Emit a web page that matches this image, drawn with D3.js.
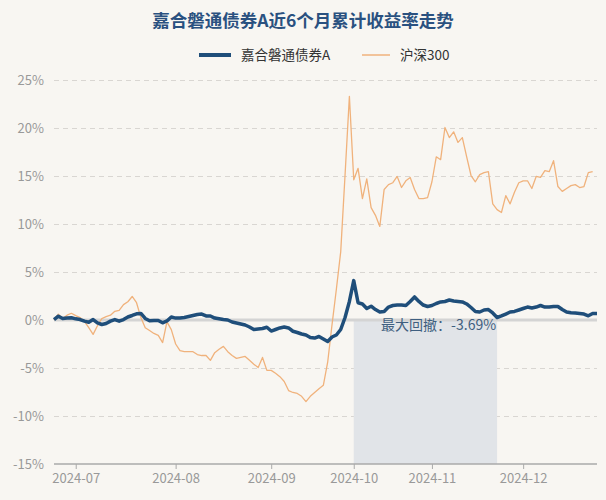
<!DOCTYPE html>
<html><head><meta charset="utf-8">
<script src="https://cdn.jsdelivr.net/npm/d3@7/dist/d3.min.js"></script>
<style>
html,body{margin:0;padding:0;background:#f8f6f2;}
svg{display:block;font-family:"Noto Sans CJK SC","Noto Sans",sans-serif;}
</style></head>
<body><svg id="c" width="606" height="500"></svg>
<script>
const title = "嘉合磐通债券A近6个月累计收益率走势";
const seriesNames = ["嘉合磐通债券A", "沪深300"];
const dates = [
"2024-06-24","2024-06-25","2024-06-26","2024-06-27","2024-06-28",
"2024-07-01","2024-07-02","2024-07-03","2024-07-04","2024-07-05","2024-07-08","2024-07-09","2024-07-10","2024-07-11","2024-07-12",
"2024-07-15","2024-07-16","2024-07-17","2024-07-18","2024-07-19","2024-07-22","2024-07-23","2024-07-24","2024-07-25","2024-07-26",
"2024-07-29","2024-07-30","2024-07-31",
"2024-08-01","2024-08-02","2024-08-05","2024-08-06","2024-08-07","2024-08-08","2024-08-09","2024-08-12","2024-08-13","2024-08-14",
"2024-08-15","2024-08-16","2024-08-19","2024-08-20","2024-08-21","2024-08-22","2024-08-23","2024-08-26","2024-08-27","2024-08-28",
"2024-08-29","2024-08-30",
"2024-09-02","2024-09-03","2024-09-04","2024-09-05","2024-09-06","2024-09-09","2024-09-10","2024-09-11","2024-09-12","2024-09-13",
"2024-09-18","2024-09-19","2024-09-20","2024-09-23","2024-09-24","2024-09-25","2024-09-26","2024-09-27","2024-09-30",
"2024-10-08","2024-10-09","2024-10-10","2024-10-11","2024-10-14","2024-10-15","2024-10-16","2024-10-17","2024-10-18","2024-10-21",
"2024-10-22","2024-10-23","2024-10-24","2024-10-25","2024-10-28","2024-10-29","2024-10-30","2024-10-31",
"2024-11-01","2024-11-04","2024-11-05","2024-11-06","2024-11-07","2024-11-08","2024-11-11","2024-11-12","2024-11-13","2024-11-14",
"2024-11-15","2024-11-18","2024-11-19","2024-11-20","2024-11-21","2024-11-22","2024-11-25","2024-11-26","2024-11-27","2024-11-28",
"2024-11-29",
"2024-12-02","2024-12-03","2024-12-04","2024-12-05","2024-12-06","2024-12-09","2024-12-10","2024-12-11","2024-12-12","2024-12-13",
"2024-12-16","2024-12-17","2024-12-18","2024-12-19","2024-12-20","2024-12-23","2024-12-24","2024-12-25"
];
const fund = [0.05,0.4,0.15,0.2,0.23,0.12,0.05,-0.12,-0.23,0.05,
-0.3,-0.47,-0.36,-0.12,0.05,-0.12,0.05,0.31,0.47,0.65,
0.68,0.16,-0.08,-0.05,-0.05,-0.29,-0.1,0.31,0.2,0.2,
0.26,0.36,0.47,0.57,0.62,0.42,0.42,0.2,0.12,0.05,
0,-0.21,-0.31,-0.42,-0.52,-0.73,-0.99,-0.94,-0.89,-0.76,
-1.15,-0.99,-0.83,-0.73,-0.83,-1.17,-1.3,-1.46,-1.56,-1.82,
-1.88,-1.72,-1.98,-2.24,-1.77,-1.56,-0.99,0.26,1.93,4.1,
1.8,1.67,1.2,1.44,1.09,0.83,0.89,1.35,1.51,1.56,
1.56,1.51,1.93,2.4,1.93,1.56,1.41,1.51,1.72,1.88,
1.93,2.08,1.98,1.93,1.88,1.67,1.3,0.89,0.83,1.04,
1.09,0.73,0.26,0.42,0.62,0.83,0.89,1.04,1.2,1.35,
1.25,1.35,1.51,1.35,1.35,1.41,1.41,1.09,0.83,0.75,
0.73,0.68,0.62,0.44,0.68,0.68];
const hs300 = [0,0.6,0.15,0.5,0.7,0.45,0.25,-0.15,-0.8,-1.5,
-0.6,0.15,0.35,0.5,0.9,1.0,1.6,1.9,2.45,1.8,
0.25,-0.8,-1.1,-1.4,-1.6,-2.35,-0.2,-1.0,-2.5,-3.2,
-3.3,-3.3,-3.3,-3.6,-3.7,-3.7,-4.2,-3.4,-3.05,-2.75,
-3.3,-3.7,-4.0,-3.9,-3.8,-4.2,-4.6,-4.95,-3.9,-5.25,
-5.25,-5.55,-5.9,-6.4,-7.35,-7.55,-7.65,-7.95,-8.5,-7.95,
-7.55,-7.15,-6.8,-4.4,-0.5,3.2,7.1,15.1,23.3,14.6,
15.8,12.65,14.7,11.7,10.9,9.75,13.6,14.1,14.3,14.95,
13.8,14.5,14.85,13.6,12.65,12.65,12.75,14.4,17.0,16.7,
20.05,19.0,19.6,18.5,19.0,17.0,15.05,14.4,15.15,15.35,
15.45,12.1,11.5,11.2,12.95,12.1,13.3,14.3,14.5,14.5,
13.7,14.95,14.85,15.55,15.45,16.6,13.9,13.4,13.7,14.0,
14.1,13.8,13.9,15.35,15.45];
const yTicks = [-15,-10,-5,0,5,10,15,20,25];
const xTickDates = ["2024-07-01","2024-08-01","2024-09-02","2024-10-08","2024-11-01","2024-12-02"];
const xTickLabels = ["2024-07","2024-08","2024-09","2024-10","2024-11","2024-12"];

const svg = d3.select("#c");
const L = 54, R = 597, T = 80, B = 464;
const x = d3.scalePoint().domain(dates).range([L, R]);
const y = d3.scaleLinear().domain([-15, 25]).range([B, T]);
const blue = "#1f4e7a", orange = "#f0b27c";

// title
svg.append("text").attr("x", 303).attr("y", 27).attr("text-anchor", "middle")
  .attr("font-size", 17.5).attr("font-weight", "bold").attr("fill", "#2a5180").text(title);

// legend
const lg = svg.append("g");
lg.append("line").attr("x1", 199).attr("x2", 231).attr("y1", 55).attr("y2", 55)
  .attr("stroke", blue).attr("stroke-width", 4);
lg.append("text").attr("x", 241).attr("y", 60).attr("font-size", 13.5).attr("fill", "#333").text(seriesNames[0]);
lg.append("line").attr("x1", 362).attr("x2", 390).attr("y1", 55).attr("y2", 55)
  .attr("stroke", orange).attr("stroke-width", 1.5);
lg.append("text").attr("x", 400).attr("y", 60).attr("font-size", 13.5).attr("fill", "#333").text(seriesNames[1]);

// y axis
const ya = svg.append("g").attr("transform", `translate(${L},0)`)
  .call(d3.axisLeft(y).tickValues(yTicks).tickFormat(d => d + "%").tickSize(-(R - L)).tickPadding(10));
ya.select(".domain").remove();
ya.selectAll(".tick line").attr("stroke", "#d9d6d2").attr("stroke-dasharray", "5,4")
  .filter(d => d === -15 || d === 0).remove();
ya.selectAll(".tick text").attr("font-size", 13).attr("fill", "#999").attr("font-family", "Noto Sans CJK SC, sans-serif");

// max drawdown
let peakI = 0, best = 0, bp = 0, bt = 0;
fund.forEach((v, i) => {
  if (v > fund[peakI]) peakI = i;
  const dd = (1 + v / 100) / (1 + fund[peakI] / 100) - 1;
  if (dd < best) { best = dd; bp = peakI; bt = i; }
});
svg.append("rect").attr("x", x(dates[bp])).attr("y", y(0))
  .attr("width", x(dates[bt]) - x(dates[bp])).attr("height", y(-15) - y(0))
  .attr("fill", "#e1e4e8");

// zero line
svg.append("line").attr("x1", L).attr("x2", R).attr("y1", y(0)).attr("y2", y(0))
  .attr("stroke", "#d4d4d4").attr("stroke-width", 3);

// x axis
const xa = svg.append("g").attr("transform", `translate(0,${B})`)
  .call(d3.axisBottom(x).tickValues(xTickDates).tickFormat((d, i) => xTickLabels[i]).tickSize(5).tickPadding(5));
xa.select(".domain").attr("stroke", "#aaa").attr("stroke-width", 1.5).attr("d", `M${L},0H${R}`);
xa.selectAll(".tick line").attr("stroke", "#aaa");
xa.selectAll(".tick text").attr("font-size", 13).attr("fill", "#999").attr("font-family", "Noto Sans CJK SC, sans-serif");

// lines
const line = d3.line().x((d, i) => x(dates[i])).y(d => y(d)).curve(d3.curveLinear);
svg.append("path").datum(hs300).attr("d", line).attr("fill", "none")
  .attr("stroke", orange).attr("stroke-width", 1.3).attr("stroke-linejoin", "round");
svg.append("path").datum(fund).attr("d", line).attr("fill", "none")
  .attr("stroke", blue).attr("stroke-width", 3.5).attr("stroke-linejoin", "round");

// drawdown label
svg.append("text").attr("x", x(dates[bt]) - 1).attr("y", y(0) + 10).attr("text-anchor", "end")
  .attr("font-size", 14).attr("fill", "#3f5f80")
  .text("最大回撤：" + (best * 100).toFixed(2) + "%");
</script></body></html>
